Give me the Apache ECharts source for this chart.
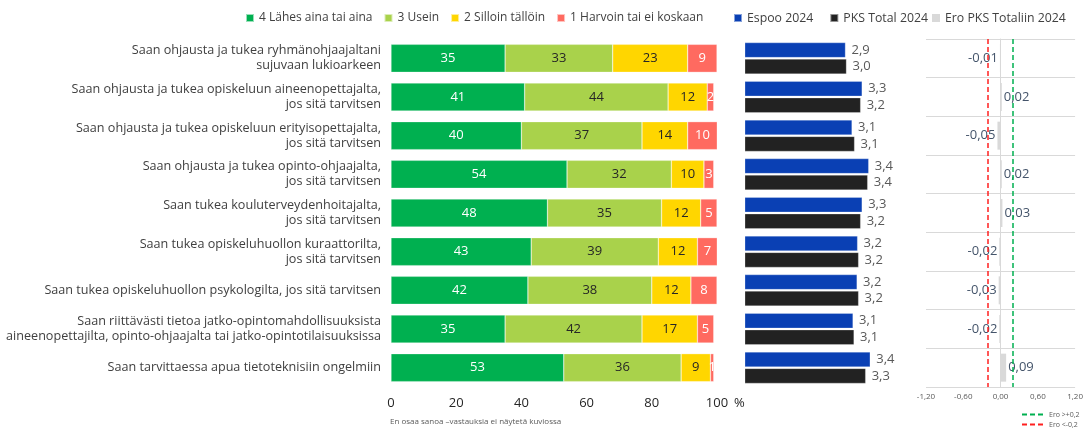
<!DOCTYPE html>
<html>
<head>
<meta charset="utf-8">
<script src="https://cdn.jsdelivr.net/npm/echarts@6/dist/echarts.min.js"></script>
<style>
  html, body { margin: 0; padding: 0; background: #fff; }
  #chart { width: 1086px; height: 428px; }
</style>
</head>
<body>
<div id="chart"></div>
<script>
var categories = [
  'Saan ohjausta ja tukea ryhmänohjaajaltani\nsujuvaan lukioarkeen',
  'Saan ohjausta ja tukea opiskeluun aineenopettajalta,\njos sitä tarvitsen',
  'Saan ohjausta ja tukea opiskeluun erityisopettajalta,\njos sitä tarvitsen',
  'Saan ohjausta ja tukea opinto-ohjaajalta,\njos sitä tarvitsen',
  'Saan tukea kouluterveydenhoitajalta,\njos sitä tarvitsen',
  'Saan tukea opiskeluhuollon kuraattorilta,\njos sitä tarvitsen',
  'Saan tukea opiskeluhuollon psykologilta, jos sitä tarvitsen',
  'Saan riittävästi tietoa jatko-opintomahdollisuuksista\naineenopettajilta, opinto-ohjaajalta tai jatko-opintotilaisuuksissa',
  'Saan tarvittaessa apua tietoteknisiin ongelmiin'
];

// jakauma, %
var lahesAina = [35, 41, 40, 54, 48, 43, 42, 35, 53];
var usein = [33, 44, 37, 32, 35, 39, 38, 42, 36];
var silloin = [23, 12, 14, 10, 12, 12, 12, 17, 9];
var harvoin = [9, 2, 10, 3, 5, 7, 8, 5, 1];

// keskiarvot
var espoo2024 = [2.94, 3.27, 3.07, 3.40, 3.27, 3.18, 3.17, 3.09, 3.43];
var pksTotal2024 = [2.96, 3.24, 3.12, 3.38, 3.24, 3.20, 3.20, 3.11, 3.34];
var eroPks = [-0.01, 0.02, -0.05, 0.02, 0.03, -0.02, -0.03, -0.02, 0.09];

var pctTicks = [0, 20, 40, 60, 80, 100];

var font = 'Open Sans';
var fmt1 = function (v) { return v.toFixed(1).replace('.', ','); };
var fmt2 = function (v) { return v.toFixed(2).replace('.', ','); };

var chart = echarts.init(document.getElementById('chart'));

function stackSeries(name, data, color, labelColor) {
  return {
    name: name,
    type: 'bar',
    stack: 'jakauma',
    xAxisIndex: 0,
    yAxisIndex: 0,
    barWidth: 28,
    data: data,
    itemStyle: { color: color, borderColor: 'rgba(255,255,255,0.6)', borderWidth: 0.5 },
    label: {
      show: true,
      position: 'inside',
      color: labelColor,
      fontFamily: font,
      fontSize: 13
    }
  };
}

chart.setOption({
  animation: false,
  textStyle: { fontFamily: font },
  legend: [
    {
      left: 245, top: 12, padding: 0,
      icon: 'rect', itemWidth: 8, itemHeight: 8, itemGap: 11,
      textStyle: { color: '#404040', fontSize: 12, fontFamily: font },
      data: ['4 Lähes aina tai aina', '3 Usein', '2 Silloin tällöin', '1 Harvoin tai ei koskaan']
    },
    {
      left: 733, top: 12, padding: 0,
      icon: 'rect', itemWidth: 8, itemHeight: 8, itemGap: 16,
      textStyle: { color: '#404040', fontSize: 12.3, fontFamily: font },
      data: ['Espoo 2024', 'PKS Total 2024']
    },
    {
      left: 932, top: 12, padding: 0,
      icon: 'rect', itemWidth: 8, itemHeight: 8,
      textStyle: { color: '#404040', fontSize: 12.3, fontFamily: font },
      data: [{ name: 'Ero PKS Totaliin 2024', itemStyle: { color: '#d9d9d9' } }]
    },
    {
      left: 1021, top: 411, height: 40, padding: 0, orient: 'vertical', itemGap: 3,
      itemWidth: 22, itemHeight: 6,
      itemStyle: { color: 'rgba(0,0,0,0)', borderColor: 'rgba(0,0,0,0)', borderWidth: 0 },
      textStyle: { color: '#595959', fontSize: 7, fontFamily: font },
      data: ['Ero >+0,2', 'Ero <-0,2']
    }
  ],
  grid: [
    { left: 391, top: 39, width: 326, height: 348 },
    { left: 745, top: 39, width: 154, height: 348 },
    { left: 926, top: 39, width: 156, height: 348 }
  ],
  xAxis: [
    {
      gridIndex: 0, type: 'value', min: 0, max: 100, interval: 20,
      axisLine: { show: false }, axisTick: { show: false }, splitLine: { show: false },
      axisLabel: {
        margin: 10, color: '#262626', fontSize: 13, fontFamily: font,
        customValues: pctTicks
      },
      name: '%', nameLocation: 'end', nameGap: 14,
      nameTextStyle: { color: '#262626', fontSize: 13, fontFamily: font, verticalAlign: 'top', padding: [10, 0, 0, 0] }
    },
    {
      gridIndex: 1, type: 'value', min: 0.95, max: 4, show: false
    },
    {
      gridIndex: 2, type: 'value', min: -1.2, max: 1.2, interval: 0.6,
      axisLine: { show: false }, axisTick: { show: false }, splitLine: { show: false },
      axisLabel: { margin: 6, color: '#595959', fontSize: 8, fontFamily: font, formatter: fmt2 }
    }
  ],
  yAxis: [
    {
      gridIndex: 0, type: 'category', inverse: true, data: categories,
      axisLine: { show: false }, axisTick: { show: false },
      axisLabel: {
        margin: 10, color: '#404040', fontSize: 12.6, fontFamily: font,
        lineHeight: 15, align: 'right'
      }
    },
    {
      gridIndex: 1, type: 'category', inverse: true, data: categories, show: false
    },
    {
      gridIndex: 2, type: 'category', inverse: true, data: categories,
      axisLine: { show: true, lineStyle: { color: '#d9d9d9', width: 1 } },
      axisTick: { show: false },
      axisLabel: { show: false },
      splitLine: { show: true, lineStyle: { color: '#d9d9d9', width: 1 } }
    }
  ],
  series: [
    stackSeries('4 Lähes aina tai aina', lahesAina, '#00b050', '#ffffff'),
    stackSeries('3 Usein', usein, '#a9d24b', '#262626'),
    stackSeries('2 Silloin tällöin', silloin, '#ffd600', '#262626'),
    stackSeries('1 Harvoin tai ei koskaan', harvoin, '#ff6a60', '#ffffff'),
    {
      name: 'Espoo 2024', type: 'bar', xAxisIndex: 1, yAxisIndex: 1,
      barWidth: 15, barGap: '10%', data: espoo2024,
      itemStyle: { color: '#0a40b4', borderColor: 'rgba(255,255,255,0.5)', borderWidth: 0.5 },
      label: { show: true, position: 'right', distance: 6, color: '#595959', fontSize: 13, fontFamily: font,
        formatter: function (p) { return fmt1(p.value); } }
    },
    {
      name: 'PKS Total 2024', type: 'bar', xAxisIndex: 1, yAxisIndex: 1,
      barWidth: 15, barGap: '10%', data: pksTotal2024,
      itemStyle: { color: '#222222', borderColor: 'rgba(255,255,255,0.5)', borderWidth: 0.5 },
      label: { show: true, position: 'right', distance: 6, color: '#595959', fontSize: 13, fontFamily: font,
        formatter: function (p) { return fmt1(p.value); } }
    },
    {
      name: 'Ero PKS Totaliin 2024', type: 'bar', xAxisIndex: 2, yAxisIndex: 2,
      barWidth: 28,
      data: eroPks.map(function (v) {
        return { value: v, label: { position: v < 0 ? 'left' : 'right' } };
      }),
      itemStyle: { color: '#d9d9d9' },
      label: { show: true, distance: 2, color: '#44546a', fontSize: 13, fontFamily: font,
        formatter: function (p) { return fmt2(p.value); } },
      markLine: {
        silent: true, symbol: 'none', label: { show: false },
        data: [
          { xAxis: 0.2, lineStyle: { color: '#00b050', type: [5, 3], width: 1.5 } },
          { xAxis: -0.2, lineStyle: { color: '#ff2020', type: [5, 3], width: 1.5 } }
        ]
      }
    },
    {
      name: 'Ero >+0,2', type: 'line', xAxisIndex: 2, yAxisIndex: 2, data: [],
      symbol: 'none', color: '#00b050', lineStyle: { color: '#00b050', type: [5, 3], width: 1.5 }
    },
    {
      name: 'Ero <-0,2', type: 'line', xAxisIndex: 2, yAxisIndex: 2, data: [],
      symbol: 'none', color: '#ff2020', lineStyle: { color: '#ff2020', type: [5, 3], width: 1.5 }
    }
  ],
  graphic: [
    {
      type: 'text', left: 390, top: 418,
      style: { text: 'En osaa sanoa –vastauksia ei näytetä kuviossa', fill: '#595959', fontSize: 8, fontFamily: font }
    }
  ]
});
</script>
</body>
</html>
